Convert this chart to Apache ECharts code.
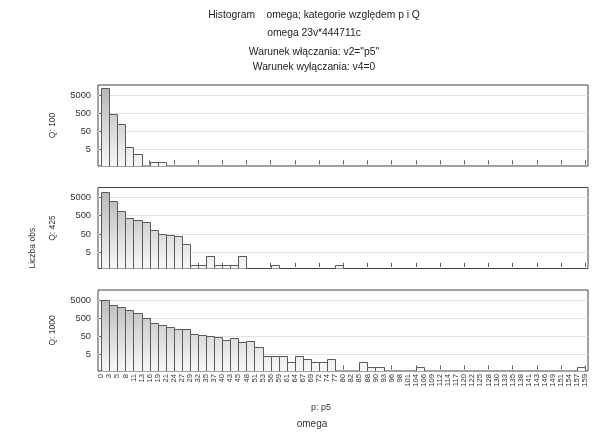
<!DOCTYPE html>
<html><head><meta charset="utf-8">
<script src="https://cdn.jsdelivr.net/npm/echarts@6/dist/echarts.min.js"></script>
<style>html,body{margin:0;padding:0;background:#fff}#c{width:604px;height:437px}</style>
</head><body><div id="c"></div>
<script>
// Bin edge labels (61 edges for 60 bins)
const binLabels = ['0','3','5','8','11','13','16','19','21','24','27','29','32','35','37','40','43','45','48','51',
  '53','56','59','61','64','67','69','72','74','77','80','82','85','88','90','93','96','98','101','104',
  '106','109','112','114','117','120','122','125','128','130','133','135','138','141','143','146','149','151','154','157','159'];
// Counts per bin (60 bins)
const q100 = [11700,440,128,7,3,0,1,1,0,0, 0,0,0,0,0,0,0,0,0,0, 0,0,0,0,0,0,0,0,0,0,
  0,0,0,0,0,0,0,0,0,0, 0,0,0,0,0,0,0,0,0,0, 0,0,0,0,0,0,0,0,0,0];
const q425 = [9500,3100,950,400,300,240,83,50,42,39, 14,1,1,3,1,1,1,3,0,0, 0,1,0,0,0,0,0,0,0,1,
  0,0,0,0,0,0,0,0,0,0, 0,0,0,0,0,0,0,0,0,0, 0,0,0,0,0,0,0,0,0,0];
const q1000 = [5000,2550,2070,1480,1010,500,290,215,175,135, 125,72,57,50,48,34,40,24,30,14, 4,4,4,2,4,3,2,2,3,0,
  0,0,2,1,1,0,0,0,0,1, 0,0,0,0,0,0,0,0,0,0, 0,0,0,0,0,0,0,0,0,1];
const yTickValues = [5, 50, 500, 5000];
const panelNames = ['Q: 100', 'Q: 425', 'Q: 1000'];
const panelData = [q100, q425, q1000];
const titleLines = ['Histogram    omega; kategorie względem p i Q', 'omega 23v*444711c', 'Warunek włączania: v2="p5"', 'Warunek wyłączania: v4=0'];

const FONT = '"Liberation Sans", Arial, sans-serif';
const yMin = Math.log10(0.635), yMax = 4.25;
const xMin = -0.4, xMax = 60.35;
const tickEdges = []; for (let i = 0; i <= 60; i += 3) tickEdges.push(i);
const labelEdges = binLabels.map((_, i) => i);
const yTicks = yTickValues.map(v => Math.log10(v));
const gridTops = [85, 187.5, 290];
const gridH = 81;

const chart = echarts.init(document.getElementById('c'), null, {renderer: 'canvas'});
const grids = [], xAxes = [], yAxes = [], series = [];
gridTops.forEach((top, g) => {
  grids.push({left: 98, right: 16, top: top, height: gridH, show: true, borderColor: '#444', borderWidth: 1});
  const baseX = {gridIndex: g, type: 'value', min: xMin, max: xMax, axisLine: {show: false}, splitLine: {show: false},
    axisTick: {inside: true, length: 2, customValues: tickEdges, lineStyle: {color: '#555'}}};
  xAxes.push(Object.assign({}, baseX, {position: 'bottom',
    axisLabel: g === 2 ? {customValues: labelEdges, formatter: v => binLabels[Math.round(v)], rotate: 90,
      fontSize: 7.7, margin: 3, color: '#333', fontFamily: FONT} : {show: false}}));
  xAxes.push(Object.assign({}, baseX, {position: 'top', axisLabel: {show: false}}));
  const baseY = {gridIndex: g, type: 'value', min: yMin, max: yMax, axisLine: {show: false},
    axisTick: {inside: true, length: 2, customValues: yTicks, lineStyle: {color: '#555'}}};
  yAxes.push(Object.assign({}, baseY, {position: 'left',
    splitLine: {show: true, lineStyle: {color: '#e2e2e2', width: 1}},
    axisLabel: {customValues: yTicks, formatter: v => String(Math.round(Math.pow(10, v))), fontSize: 9.3, margin: 7,
      color: '#333', fontFamily: FONT}}));
  yAxes.push(Object.assign({}, baseY, {position: 'right', splitLine: {show: false}, axisLabel: {show: false}}));
  const data = [];
  panelData[g].forEach((v, i) => { if (v > 0) data.push([i, Math.log10(v)]); });
  series.push({
    type: 'custom', xAxisIndex: 2 * g, yAxisIndex: 2 * g, data: data, clip: true,
    encode: {x: 0, y: 1},
    renderItem: function (params, api) {
      const i = api.value(0), lv = api.value(1);
      const p0 = api.coord([i, lv]);
      const p1 = api.coord([i + 1, yMin]);
      const gTop = api.coord([0, yMax])[1];
      const x0 = Math.round(p0[0]) + 0.5, x1 = Math.round(p1[0]) + 0.5;
      const y0 = Math.round(p0[1]) + 0.5, y1 = Math.round(p1[1]) + 0.5;
      return {type: 'rect', shape: {x: x0, y: y0, width: x1 - x0, height: y1 - y0},
        style: {fill: {type: 'linear', x: 0, y: gTop, x2: 0, y2: p1[1], global: true,
          colorStops: [{offset: 0, color: '#b4b4b4'}, {offset: 1, color: '#f8f8f8'}]},
          stroke: '#5a5a5a', lineWidth: 1}};
    }
  });
});

const graphic = [];
const titleY = [15, 33.5, 52.5, 67];
titleLines.forEach((t, k) => graphic.push({type: 'text', x: 314, y: titleY[k],
  style: {text: t, fill: '#222', font: '10.3px ' + FONT, textAlign: 'center', textVerticalAlign: 'middle'}}));
panelNames.forEach((t, g) => graphic.push({type: 'text', x: 53, y: gridTops[g] + gridH / 2, rotation: Math.PI / 2,
  style: {text: t, fill: '#333', font: '8.5px ' + FONT, textAlign: 'center', textVerticalAlign: 'middle'}}));
graphic.push({type: 'text', x: 33, y: 247, rotation: Math.PI / 2,
  style: {text: 'Liczba obs.', fill: '#333', font: '8.5px ' + FONT, textAlign: 'center', textVerticalAlign: 'middle'}});
graphic.push({type: 'text', x: 321, y: 408, style: {text: 'p: p5', fill: '#333', font: '9px ' + FONT, textAlign: 'center', textVerticalAlign: 'middle'}});
graphic.push({type: 'text', x: 312, y: 424.5, style: {text: 'omega', fill: '#333', font: '10px ' + FONT, textAlign: 'center', textVerticalAlign: 'middle'}});

chart.setOption({
  animation: false,
  backgroundColor: '#fff',
  grid: grids, xAxis: xAxes, yAxis: yAxes, series: series, graphic: graphic
});
</script></body></html>
